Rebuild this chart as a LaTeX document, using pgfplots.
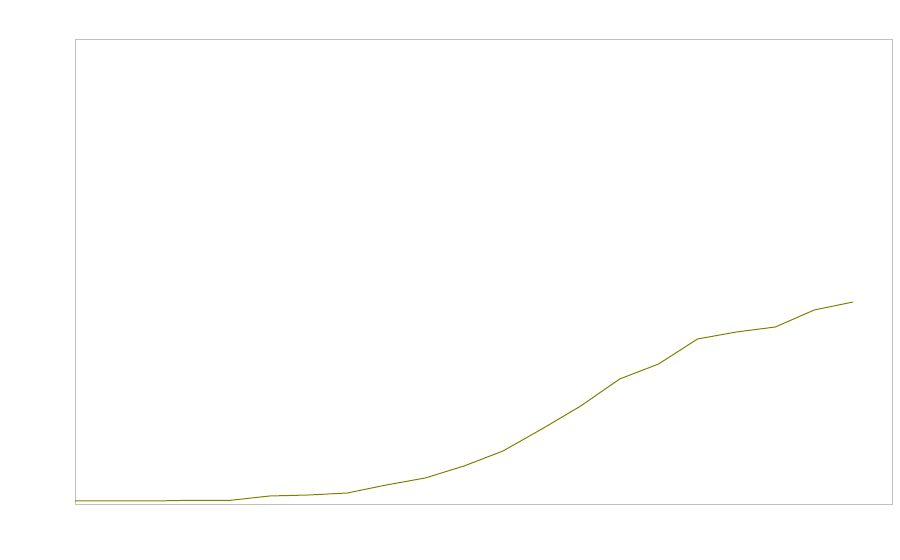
\documentclass[border=0pt]{standalone}
\usepackage{pgfplots}
\pgfplotsset{compat=1.18}
\begin{document}
\begin{tikzpicture}
\begin{axis}[
  scale only axis,
  width=817bp, height=464bp,
  xmin=0, xmax=21, ymin=0, ymax=464,
  xtick=\empty, ytick=\empty,
  axis line style={draw=black!25, line width=1bp},
]
\addplot[color={rgb,255:red,128;green,128;blue,0}, line width=1bp, mark=none] coordinates {
(0,3) (1,3) (2,3) (3,3.7) (4,3.7) (5,8) (6,9) (7,11) (8,19) (9,26) (10,38)
(11,53) (12,75) (13,98) (14,125) (15,140) (16,165) (17,172) (18,177) (19,194) (20,202)
};
\end{axis}
\path ([shift={(-75bp,-56bp)}]current axis.south west) rectangle ([shift={(8bp,40bp)}]current axis.north east);
\end{tikzpicture}
\end{document}
